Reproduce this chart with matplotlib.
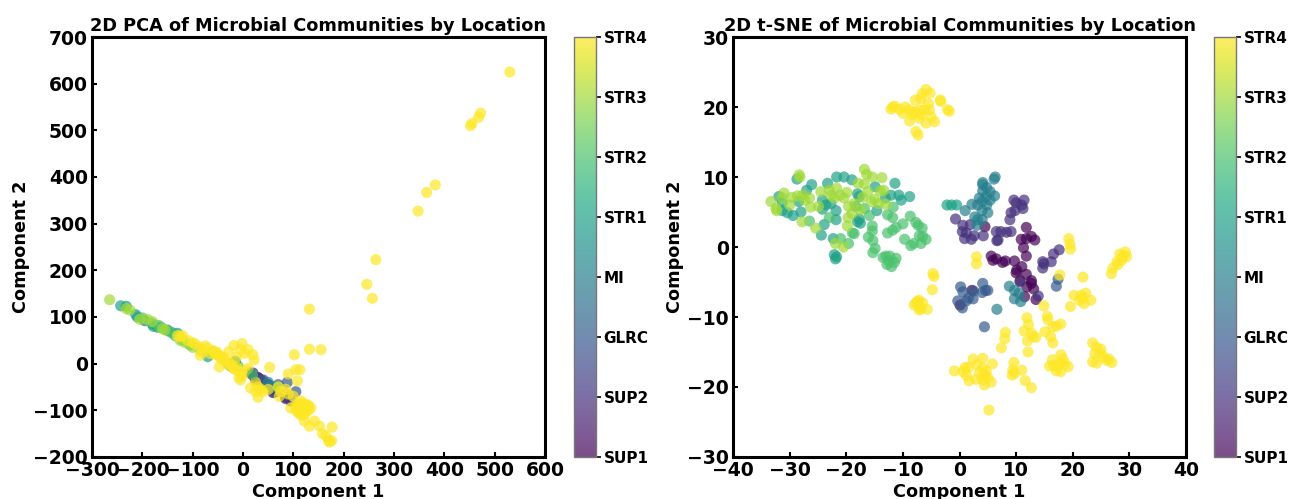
import numpy as np
import matplotlib
matplotlib.use("Agg")
import matplotlib.pyplot as plt
from matplotlib.ticker import MultipleLocator

locations = ["SUP1", "SUP2", "GLRC", "MI", "STR1", "STR2", "STR3", "STR4"]

# PCA points per location
pca_sup1 = [(20, -25), (30, -30), (35, -35), (60, -62), (65, -60), (85, -72), (15, -20)]
pca_sup2 = [(20, -20), (30, -30), (40, -35), (50, -45), (85, -75), (95, -80), (25, -35)]
pca_glrc = [(88, -40), (105, -60), (50, -45), (60, -60), (70, -45), (35, -35), (85, -65)]
pca_mi = [(-195, 92), (-150, 72), (-30, 0), (50, -40), (60, -50), (-15, 5)]
pca_str1 = [(-243, 124), (-232, 123), (-213, 105), (-210, 100), (-180, 85), (-178, 80), (-170, 78),
            (-140, 66), (-130, 65), (-70, 15), (-25, -5), (-15, 0)]
pca_str2 = [(-200, 98), (-168, 82), (-162, 78), (-145, 68), (-135, 60), (-120, 50), (-105, 40),
            (-60, 25), (-10, -5), (70, -50)]
pca_str3 = [(-265, 137), (-232, 118), (-225, 115), (-205, 95), (-190, 95), (-180, 90), (-160, 75),
            (-155, 72), (-125, 50), (-115, 45), (-100, 35), (-85, 30)]
pca_str4 = [(530, 625), (452, 510), (455, 515), (468, 528), (472, 537), (382, 383), (365, 367),
            (348, 327), (264, 223), (246, 170), (257, 140), (132, 117), (132, 31), (155, 30),
            (102, 19), (105, -13), (113, -13), (53, -8), (90, -22), (108, -37), (-28, 26), (-18, 39),
            (-2, 43), (-5, 30), (10, 30), (20, 19), (22, 8), (-13, 14), (3, 22), (-47, -7),
            (-130, 60), (-125, 58), (-120, 60), (-110, 50), (-100, 45), (-95, 42), (-85, 35), (-75, 38),
            (-70, 33), (-85, 18), (-80, 25), (-60, 28), (-55, 25), (-50, 18), (-45, 15), (-40, 8),
            (-35, 5), (-30, 0), (-25, -5), (-20, -10), (-15, -12), (-10, -15), (-8, -30), (-5, -35),
            (0, -25), (5, -15), (10, -10), (-45, 12), (-55, 20), (-65, 22), (15, -52), (25, -40),
            (30, -50), (35, -55), (30, -72), (25, -60), (40, -60), (50, -55), (70, -50), (72, -70),
            (85, -55), (75, -60), (90, -65), (100, -70), (95, -95), (105, -90), (110, -85), (115, -80),
            (120, -85), (125, -95), (130, -90), (120, -100), (110, -105), (115, -110), (125, -105),
            (130, -100), (135, -95), (105, -100), (120, -110), (118, -90), (112, -95), (122, -92),
            (128, -88), (122, -123), (142, -123), (152, -134), (132, -134), (177, -136), (158, -150),
            (165, -155), (170, -165), (176, -165), (172, -168), (-38, 12), (-28, 2), (-22, -3), (-12, -8),
            (-42, 16), (-52, 24), (115, -95), (118, -100), (112, -90), (125, -90), (108, -95), (114, -105)]

# t-SNE points per location
tsne_sup1 = [(4.5, 2.9), (11.8, 2.8), (10.9, 1.1), (11.8, 1.2), (12.7, 1.5), (13.3, 1.0), (11.3, -0.1),
             (11.8, -1.3), (5.6, -1.3), (5.9, -1.9), (6.5, -1.7), (7.6, -2.2), (8.1, -2.0), (9.7, -2.0),
             (11.0, -2.8), (10.0, -3.7), (10.1, -3.3), (11.8, -3.9), (10.7, -4.8), (12.7, -4.8),
             (12.7, -5.2), (11.9, -5.7), (13.1, -6.0), (13.5, -7.5), (11.5, -7.1), (2.2, -6.2), (0.1, -8.3)]
tsne_sup2 = [(9.6, 6.7), (10.0, 6.3), (11.4, 6.7), (11.0, 6.0), (11.2, 5.5), (9.8, 5.2), (9.1, 4.9),
             (8.9, 3.9), (-0.7, 4.0), (0.6, 3.1), (1.9, 3.2), (0.5, 2.2), (1.2, 2.0), (0.9, 1.2), (2.1, 1.1),
             (2.6, 1.6), (4.2, 1.6), (6.5, 2.2), (7.3, 2.2), (8.3, 2.1), (9.1, 2.2), (6.8, 1.0), (6.6, 0.9),
             (17.6, -0.4), (16.6, -1.0), (16.2, -2.1), (14.7, -2.1), (14.7, -3.0), (14.9, -2.4),
             (10.7, -5.0), (13.9, -7.0)]
tsne_glrc = [(0.2, -5.7), (0.6, -6.4), (4.1, -5.2), (4.6, -6.2), (5.0, -6.2), (4.0, -6.5), (2.5, -6.3),
             (2.4, -7.4), (1.6, -7.3), (1.2, -7.7), (-0.3, -7.7), (0.5, -8.7), (4.4, -11.4), (17.1, -5.6),
             (17.4, -4.6)]
tsne_mi = [(6.6, -8.9), (8.8, -5.6), (9.7, -6.2), (10.5, -6.6), (9.7, -7.4), (10.8, -7.8), (6.3, 10.0),
           (6.1, 9.7), (4.1, 9.2), (4.1, 8.9), (4.8, 8.5), (4.1, 8.0), (5.4, 7.9), (3.5, 7.0), (4.7, 7.2),
           (6.2, 7.3), (2.2, 6.1), (3.2, 6.0), (4.0, 6.5), (4.8, 6.0), (5.4, 6.7), (1.0, 5.2), (4.0, 5.2),
           (5.0, 4.9), (2.7, 4.3), (3.2, 3.9), (4.0, 3.9), (3.1, 3.1)]
tsne_str1 = [(-31.9, 7.2), (-31.3, 6.3), (-31.3, 5.2), (-30.4, 4.9), (-29.4, 4.5), (-28.4, 6.5), (-28.0, 5.0),
             (-27.0, 8.1), (-26.1, 8.9), (-23.3, 9.1), (-21.7, 10.0), (-20.4, 10.0), (-19.0, 9.6), (-14.9, 8.6),
             (-11.4, 9.1), (-18.0, 7.6), (-13.1, 7.0), (-12.1, 7.4), (-10.7, 7.4), (-10.3, 6.7), (-8.8, 7.2),
             (-24.2, 6.7), (-22.7, 6.2), (-23.6, 6.0), (-24.2, 5.4), (-21.8, 5.2), (-18.3, 5.8), (-14.6, 5.2),
             (-17.7, 4.0), (-18.0, 3.6), (-17.5, 3.4), (-21.8, 3.9), (-23.9, 3.2), (-24.4, 1.7), (-22.3, 1.2),
             (-22.1, -1.1), (-21.7, -1.4), (-21.9, -1.7), (-17.7, 7.2), (-2.2, 6.0), (-1.4, 6.0), (-0.5, 6.0),
             (-28.7, 9.7)]
tsne_str2 = [(-8.7, 4.4), (-7.7, 3.5), (-7.3, 3.1), (-6.6, 2.7), (-7.1, 1.6), (-6.5, 1.5), (-5.9, 1.1),
             (-9.7, 1.1), (-6.8, 0.5), (-8.1, 0.5), (-8.6, 0.2), (-10.0, 3.3), (-11.2, 2.8), (-11.8, 2.4),
             (-12.7, 2.0), (-12.7, 4.6), (-11.8, 4.2), (-11.7, 5.7), (-15.9, 4.5), (-15.4, 3.0), (-15.4, 2.3),
             (-16.1, 1.4), (-15.3, 0.9), (-14.9, -0.2), (-15.3, -0.8), (-13.0, -1.3), (-12.3, -1.3), (-11.2, -1.6),
             (-16.8, 5.5), (-18.9, 2.0), (-18.6, 1.9), (-19.6, 0.5), (-21.0, 1.2), (-23.0, 4.2), (-26.5, 3.7),
             (-13.5, -1.5), (-12.8, -2.5), (-12.5, -2.0), (-11.5, -2.2), (-12.0, -2.8)]
tsne_str3 = [(-33.3, 6.5), (-32.4, 5.5), (-32.3, 5.2), (-31.0, 7.7), (-31.3, 7.0), (-29.6, 7.1), (-28.6, 7.3),
             (-27.7, 7.4), (-26.5, 7.0), (-27.3, 6.7), (-30.0, 6.0), (-26.3, 5.7), (-27.8, 3.6), (-28.3, 10.3),
             (-28.2, 10.0), (-25.4, 2.7), (-24.5, 7.9), (-23.0, 8.1), (-21.7, 8.4), (-19.9, 7.8), (-22.7, 7.4),
             (-22.1, 7.0), (-21.1, 7.4), (-20.4, 7.0), (-24.9, 5.8), (-19.6, 5.8), (-18.6, 6.2), (-19.0, 4.8),
             (-17.5, 5.3), (-19.7, 4.2), (-19.8, 3.0), (-16.8, 11.1), (-16.4, 10.4), (-15.4, 10.0), (-13.7, 9.9),
             (-17.9, 9.1), (-16.8, 9.0), (-16.2, 7.9), (-14.0, 8.0), (-13.4, 8.1), (-17.1, 7.1), (-15.6, 6.5),
             (-15.0, 6.8), (-14.3, 6.2), (-13.0, 6.1), (-21.9, 0.5), (-20.5, 0.0)]
tsne_str4 = [(-5.9, 22.5), (-5.2, 22.0), (-6.6, 21.9), (-6.8, 21.2), (-7.8, 21.0), (-5.5, 20.5), (-3.4, 21.0),
             (-3.3, 20.8), (-2.1, 19.6), (-1.8, 19.4), (-11.8, 20.0), (-12.1, 19.7), (-11.4, 20.1), (-10.6, 19.7),
             (-9.6, 20.0), (-10.0, 19.1), (-8.8, 19.6), (-8.0, 19.3), (-7.1, 19.6), (-6.2, 19.6), (-5.3, 19.6),
             (-8.8, 18.0), (-7.1, 18.4), (-5.9, 17.7), (-4.4, 17.9), (-5.0, 18.6), (-7.7, 16.5), (-7.3, 16.0),
             (-6.8, 18.9), (-8.3, 18.9), (-4.7, -3.8), (-4.5, -4.2), (-4.8, -6.1), (-7.4, -7.8), (-8.0, -8.3),
             (-7.1, -9.0), (-6.5, -8.0), (-5.7, -8.9), (-7.1, -8.5), (-7.7, -8.0), (-6.8, -8.8), (-7.2, -7.6),
             (3.0, -1.4), (3.0, -2.4), (17.7, -4.0), (21.8, -4.3), (14.9, -8.4), (19.6, -8.5), (20.2, -6.9),
             (21.5, -6.9), (22.3, -6.6), (21.2, -7.6), (22.0, -8.1), (23.2, -7.6), (21.7, -7.3), (29.3, -0.7),
             (28.3, -1.0), (29.5, -1.4), (28.6, -1.9), (27.8, -2.1), (28.9, -1.3), (28.0, -2.5), (27.1, -3.0),
             (26.8, -3.8), (19.3, 1.2), (19.5, 0.4), (19.6, -0.3), (11.9, -10.1), (12.2, -11.1), (11.4, -12.0),
             (12.7, -12.3), (13.5, -12.9), (13.0, -12.8), (12.0, -13.4), (12.1, -15.0), (8.1, -12.2), (8.0, -13.1),
             (7.4, -14.4), (15.5, -9.9), (15.6, -10.4), (16.5, -11.4), (17.1, -11.3), (17.9, -11.0), (15.1, -12.1),
             (16.1, -12.8), (16.5, -13.7), (-0.9, -17.7), (0.6, -17.8), (1.0, -17.2), (1.6, -17.2), (1.2, -18.3),
             (1.7, -19.1), (2.4, -16.0), (3.1, -16.8), (4.1, -15.9), (5.8, -16.7), (4.1, -17.3), (4.7, -17.7),
             (3.5, -18.0), (4.4, -18.3), (5.0, -18.6), (2.9, -18.9), (4.1, -19.0), (5.6, -19.3), (4.4, -19.7),
             (5.2, -23.3), (9.6, -16.5), (9.4, -17.6), (9.7, -18.0), (9.3, -18.3), (11.0, -17.6), (11.6, -19.1),
             (12.7, -20.1), (16.4, -16.1), (15.9, -17.0), (16.6, -16.9), (17.1, -17.7), (17.9, -15.4), (18.3, -16.0),
             (17.8, -16.6), (18.6, -16.7), (19.2, -17.1), (17.9, -17.8), (17.4, -17.0), (23.5, -13.7), (24.2, -14.3),
             (25.0, -14.6), (23.9, -15.2), (24.8, -15.2), (25.4, -15.7), (23.5, -16.4), (24.2, -16.6), (26.4, -16.0),
             (26.9, -16.5), (26.0, -16.2)]

# the one green PCA point that sits on top of the yellow ones
pca_top = [(18, -23)]
pca_top_code = 5

pca_groups = [pca_sup1, pca_sup2, pca_glrc, pca_mi, pca_str1, pca_str2, pca_str3, pca_str4]
tsne_groups = [tsne_sup1, tsne_sup2, tsne_glrc, tsne_mi, tsne_str1, tsne_str2, tsne_str3, tsne_str4]

plt.rcParams["font.weight"] = "bold"
W, H = 1289, 499
MARKER = 64


def px_axes(fig, left, top, right, bottom):
    return fig.add_axes([left / W, 1 - bottom / H, (right - left) / W, (bottom - top) / H])


def draw_panel(fig, groups, title, box, cbar_box, xlim, ylim, xstep, ystep):
    ax = px_axes(fig, *box)
    pts = np.array([p for g in groups for p in g], dtype=float)
    codes = np.concatenate([[i] * len(g) for i, g in enumerate(groups)])
    sc = ax.scatter(pts[:, 0], pts[:, 1], c=codes, cmap="viridis", vmin=0, vmax=7,
                    s=MARKER, alpha=0.7, linewidths=0)
    ax.set_xlim(*xlim)
    ax.set_ylim(*ylim)
    ax.xaxis.set_major_locator(MultipleLocator(xstep))
    ax.yaxis.set_major_locator(MultipleLocator(ystep))
    ax.set_title(title, fontsize=12.8, fontweight="bold", pad=4)
    ax.set_xlabel("Component 1", fontsize=12.7, fontweight="bold", labelpad=2)
    ax.set_ylabel("Component 2", fontsize=12.7, fontweight="bold", labelpad=2)
    ax.tick_params(direction="in", labelsize=13.5, width=1.5, length=3.5, pad=3)
    for s in ax.spines.values():
        s.set_linewidth(2.2)
    cax = px_axes(fig, *cbar_box)
    cb = fig.colorbar(sc, cax=cax, ticks=range(len(locations)))
    cb.ax.set_yticklabels(locations, fontsize=11, fontweight="bold")
    cb.ax.tick_params(length=3.5, width=1.2, pad=2)
    cb.outline.set_linewidth(1)
    cb.outline.set_edgecolor("#777777")
    return ax


fig = plt.figure(figsize=(W / 100, H / 100), dpi=100)
ax1 = draw_panel(fig, pca_groups, "2D PCA of Microbial Communities by Location",
                 (92, 37, 545, 457), (574, 37, 596, 457), (-300, 600), (-200, 700), 100, 100)
ax1.scatter([p[0] for p in pca_top], [p[1] for p in pca_top], c=[pca_top_code] * len(pca_top),
            cmap="viridis", vmin=0, vmax=7, s=MARKER, alpha=0.7, linewidths=0)
draw_panel(fig, tsne_groups, "2D t-SNE of Microbial Communities by Location",
           (733, 37, 1186, 457), (1214, 37, 1236, 457), (-40, 40), (-30, 30), 10, 10)
fig.savefig("out.png", dpi=100)
